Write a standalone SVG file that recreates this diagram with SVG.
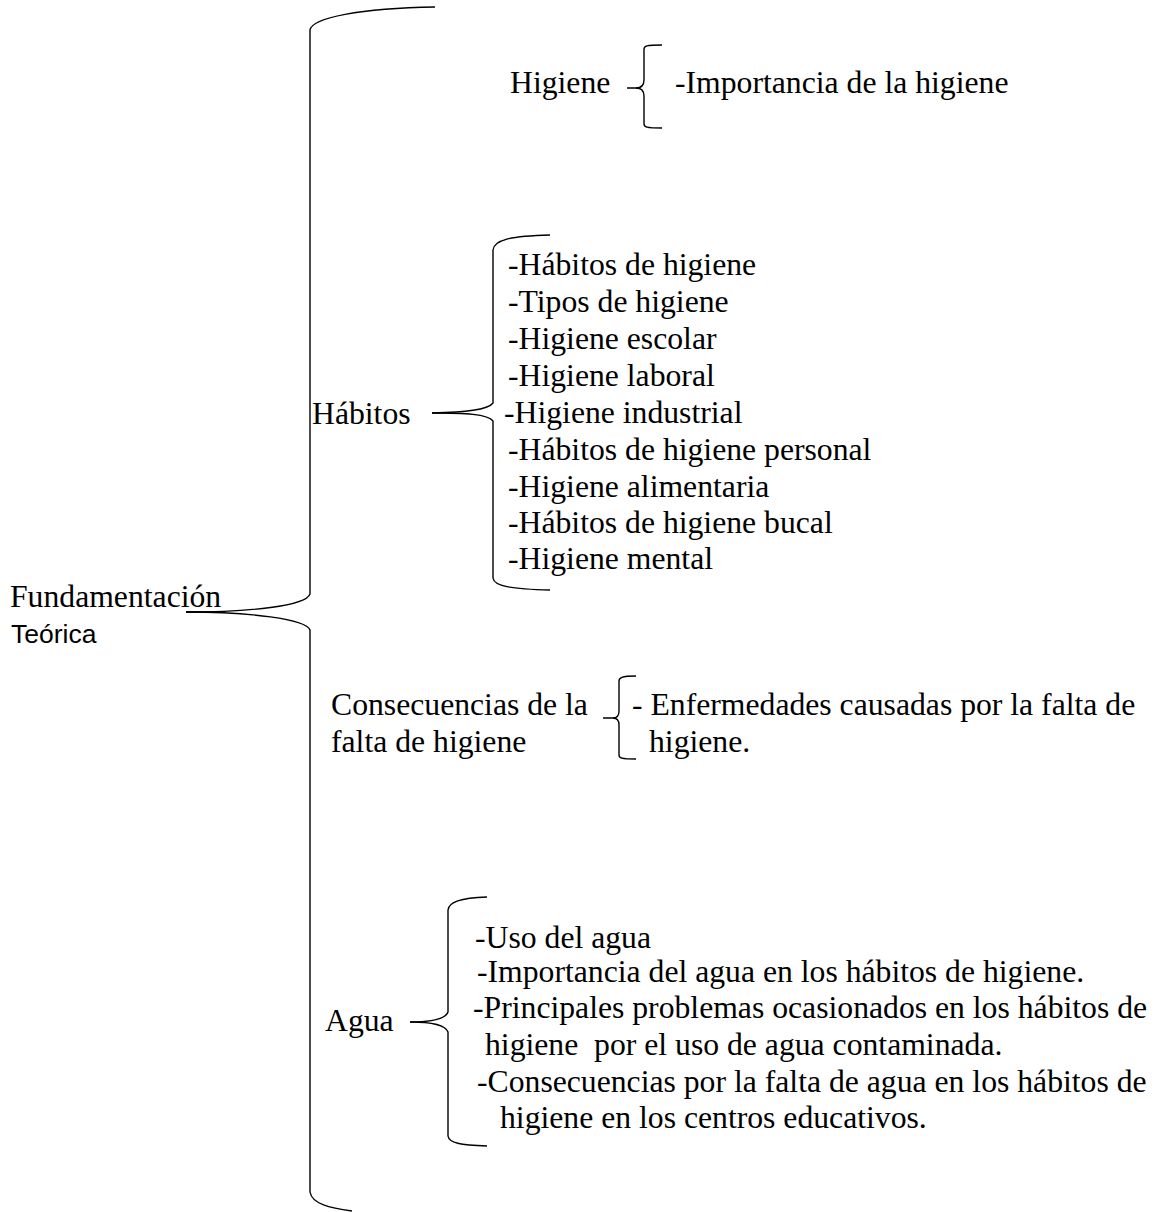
<svg xmlns="http://www.w3.org/2000/svg" width="1161" height="1212" viewBox="0 0 1161 1212">
<style>
.t{font-family:"Liberation Serif","Times New Roman",serif;font-size:31.7px;fill:#000}
.s{font-family:"Liberation Sans",Arial,sans-serif;font-size:26.5px;fill:#000}
.b{fill:none;stroke:#000;stroke-width:1.4}
</style>
<rect width="1161" height="1212" fill="#fff"/>
<g id="connectors">
<path class="b" d="M186 612 C250 612 306 606 310 594 L310 30 C312 18 360 8 435 7"/>
<path class="b" d="M186 612 C250 612 306 619 310 630 L310 1192 C312 1204 330 1208 352 1211"/>
<path class="b" d="M186 612 L225 612"/>
<path class="b" d="M627 88 L636 88 C641 88 644 85 644 80 L644 49 C644 46 646 45 662 45"/>
<path class="b" d="M636 88 C641 88 644 91 644 96 L644 124 C644 127 646 128 662 128"/>
<path class="b" d="M432 413 C465 412 488 410 493 403 L493 250 C494 240 510 236 550 235"/>
<path class="b" d="M432 413 C465 413 488 414 493 421 L493 578 C494 586 510 589 550 590"/>
<path class="b" d="M603 718 L613 718 C617 718 619 715 619 711 L619 681 C619 678 621 676 636 676"/>
<path class="b" d="M613 718 C617 718 619 721 619 725 L619 755 C619 758 621 759 636 759"/>
<path class="b" d="M410 1022 C430 1022 445 1020 448 1012 L448 910 C449 902 460 898 487 897"/>
<path class="b" d="M410 1022 C430 1022 445 1024 448 1032 L448 1136 C449 1143 460 1145 487 1146"/>
</g>
<g id="root">
<text class="t" x="10" y="607">Fundamentación</text>
<text class="s" x="11" y="643">Teórica</text>
</g>
<g id="higiene">
<text class="t" x="510" y="93">Higiene</text>
<text class="t" x="675" y="93">-Importancia de la higiene</text>
</g>
<g id="habitos">
<text class="t" x="312" y="424">Hábitos</text>
<text class="t" x="508" y="275">-Hábitos de higiene</text>
<text class="t" x="508" y="312">-Tipos de higiene</text>
<text class="t" x="508" y="349">-Higiene escolar</text>
<text class="t" x="508" y="386">-Higiene laboral</text>
<text class="t" x="504" y="423">-Higiene industrial</text>
<text class="t" x="508" y="460">-Hábitos de higiene personal</text>
<text class="t" x="508" y="497">-Higiene alimentaria</text>
<text class="t" x="508" y="533">-Hábitos de higiene bucal</text>
<text class="t" x="508" y="569">-Higiene mental</text>
</g>
<g id="consecuencias">
<text class="t" x="331" y="715">Consecuencias de la</text>
<text class="t" x="331" y="752">falta de higiene</text>
<text class="t" x="632" y="715">- Enfermedades causadas por la falta de</text>
<text class="t" x="649" y="752">higiene.</text>
</g>
<g id="agua">
<text class="t" x="325" y="1031">Agua</text>
<text class="t" x="475" y="948">-Uso del agua</text>
<text class="t" x="477" y="982">-Importancia del agua en los hábitos de higiene.</text>
<text class="t" x="473" y="1018">-Principales problemas ocasionados en los hábitos de</text>
<text class="t" x="485" y="1055" xml:space="preserve">higiene  por el uso de agua contaminada.</text>
<text class="t" x="477" y="1092">-Consecuencias por la falta de agua en los hábitos de</text>
<text class="t" x="500" y="1128">higiene en los centros educativos.</text>
</g>
</svg>
